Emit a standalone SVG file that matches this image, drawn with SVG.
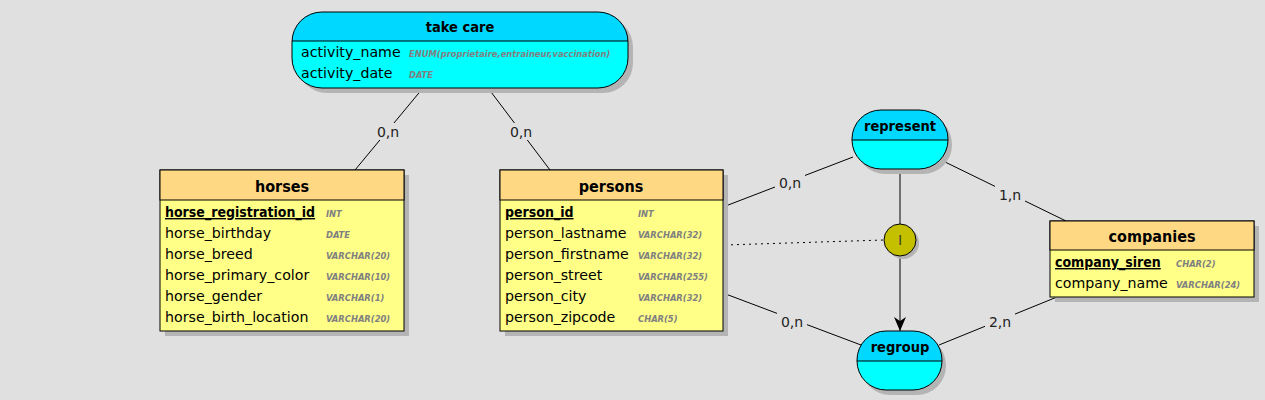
<svg xmlns="http://www.w3.org/2000/svg" width="1265" height="400" viewBox="0 0 1265 400">
<style>
text{font-family:"DejaVu Sans Condensed","Liberation Sans",sans-serif;}
.bg{fill:#e0e0e0}
.sh{fill:#b4b4b4}
.eh{fill:#ffd884;stroke:#000;stroke-width:1}
.eb{fill:#ffff88;stroke:#000;stroke-width:1}
.ah{fill:#00d8ff}
.ab{fill:#00ffff}
.ol{fill:none;stroke:#000;stroke-width:1}
.ttl{font-weight:bold;font-size:16px;text-anchor:middle;fill:#000}
.att{font-weight:bold;font-size:14.5px;text-anchor:middle;fill:#000}
.at{font-family:"DejaVu Sans",sans-serif;font-size:14.2px;fill:#000}
.pk{font-size:14px;font-weight:bold;fill:#000;text-decoration:underline}
.ty{font-size:9.3px;font-style:italic;font-weight:bold;fill:#808080}
.ln{stroke:#000;stroke-width:1;fill:none}
.lb{font-family:"DejaVu Sans",sans-serif;font-size:14px;fill:#222;text-anchor:middle}
.lbg{fill:#e0e0e0}
</style>
<defs>
<marker id="arr" viewBox="0 0 14 12" refX="14" refY="6" markerWidth="14" markerHeight="12" orient="auto" markerUnits="userSpaceOnUse">
<path d="M0,0 L4,6 L0,12 L14,6 Z" fill="#000"/>
</marker>
</defs>
<rect class="bg" x="0" y="0" width="1265" height="400"/>

<g id="connectors">
<line class="ln" x1="423" y1="88" x2="355" y2="170"/>
<line class="ln" x1="488" y1="88" x2="550" y2="170"/>
<line class="ln" x1="723" y1="207" x2="853" y2="157"/>
<line class="ln" x1="943" y1="161" x2="1066" y2="221"/>
<line class="ln" x1="723" y1="293" x2="861" y2="345"/>
<line class="ln" x1="939" y1="345" x2="1057" y2="297"/>
<line class="ln" x1="725" y1="245" x2="884" y2="240" stroke-dasharray="2,4"/>
<line class="ln" x1="900" y1="169" x2="900" y2="224"/>
<line class="ln" x1="900" y1="256" x2="900" y2="331" marker-end="url(#arr)"/>
<rect class="lbg" x="373" y="123" width="30" height="17"/>
<text class="lb" x="388" y="137">0,n</text>
<rect class="lbg" x="506" y="123" width="30" height="17"/>
<text class="lb" x="521" y="137">0,n</text>
<rect class="lbg" x="775" y="174" width="30" height="17"/>
<text class="lb" x="790" y="188">0,n</text>
<rect class="lbg" x="995" y="186" width="30" height="17"/>
<text class="lb" x="1010" y="200">1,n</text>
<rect class="lbg" x="777" y="313" width="30" height="17"/>
<text class="lb" x="792" y="327">0,n</text>
<rect class="lbg" x="985" y="313" width="30" height="17"/>
<text class="lb" x="1000" y="327">2,n</text>
</g>

<g id="take_care">
<rect class="sh" x="297" y="17" width="336" height="76" rx="30" ry="30"/>
<clipPath id="tcc"><rect x="292" y="12" width="336" height="76" rx="30" ry="30"/></clipPath>
<g clip-path="url(#tcc)">
<rect class="ab" x="292" y="12" width="336" height="76"/>
<rect class="ah" x="292" y="12" width="336" height="29"/>
</g>
<line class="ln" x1="292" y1="41" x2="628" y2="41"/>
<rect class="ol" x="292" y="12" width="336" height="76" rx="30" ry="30"/>
<text class="att" x="460" y="32">take care</text>
<text class="at" x="301" y="57">activity_name</text>
<text class="ty" x="409" y="57">ENUM(proprietaire,entraineur,vaccination)</text>
<text class="at" x="301" y="78">activity_date</text>
<text class="ty" x="409" y="78">DATE</text>
</g>

<g id="horses">
<rect class="sh" x="165" y="175" width="244" height="161"/>
<rect class="eb" x="160" y="170" width="244" height="161"/>
<rect class="eh" x="160" y="170" width="244" height="30"/>
<text class="ttl" x="282" y="192">horses</text>
<text class="pk" x="165" y="217">horse_registration_id</text>
<text class="ty" x="326" y="217">INT</text>
<text class="at" x="165" y="238">horse_birthday</text>
<text class="ty" x="326" y="238">DATE</text>
<text class="at" x="165" y="259">horse_breed</text>
<text class="ty" x="326" y="259">VARCHAR(20)</text>
<text class="at" x="165" y="280">horse_primary_color</text>
<text class="ty" x="326" y="280">VARCHAR(10)</text>
<text class="at" x="165" y="301">horse_gender</text>
<text class="ty" x="326" y="301">VARCHAR(1)</text>
<text class="at" x="165" y="322">horse_birth_location</text>
<text class="ty" x="326" y="322">VARCHAR(20)</text>
</g>

<g id="persons">
<rect class="sh" x="505" y="175" width="223" height="161"/>
<rect class="eb" x="500" y="170" width="223" height="161"/>
<rect class="eh" x="500" y="170" width="223" height="30"/>
<text class="ttl" x="611" y="192">persons</text>
<text class="pk" x="505" y="217">person_id</text>
<text class="ty" x="638" y="217">INT</text>
<text class="at" x="505" y="238">person_lastname</text>
<text class="ty" x="638" y="238">VARCHAR(32)</text>
<text class="at" x="505" y="259">person_firstname</text>
<text class="ty" x="638" y="259">VARCHAR(32)</text>
<text class="at" x="505" y="280">person_street</text>
<text class="ty" x="638" y="280">VARCHAR(255)</text>
<text class="at" x="505" y="301">person_city</text>
<text class="ty" x="638" y="301">VARCHAR(32)</text>
<text class="at" x="505" y="322">person_zipcode</text>
<text class="ty" x="638" y="322">CHAR(5)</text>
</g>

<g id="companies">
<rect class="sh" x="1055" y="226" width="204" height="76"/>
<rect class="eb" x="1050" y="221" width="204" height="76"/>
<rect class="eh" x="1050" y="221" width="204" height="29"/>
<text class="ttl" x="1152" y="242">companies</text>
<text class="pk" x="1055" y="267">company_siren</text>
<text class="ty" x="1176" y="267">CHAR(2)</text>
<text class="at" x="1055" y="288">company_name</text>
<text class="ty" x="1176" y="288">VARCHAR(24)</text>
</g>

<g id="represent">
<rect class="sh" x="856" y="115" width="96" height="59" rx="29" ry="29"/>
<clipPath id="rpc"><rect x="852" y="110" width="96" height="59" rx="29" ry="29"/></clipPath>
<g clip-path="url(#rpc)">
<rect class="ab" x="852" y="110" width="96" height="59"/>
<rect class="ah" x="852" y="110" width="96" height="30"/>
</g>
<line class="ln" x1="852" y1="140" x2="948" y2="140"/>
<rect class="ol" x="852" y="110" width="96" height="59" rx="29" ry="29"/>
<text class="att" x="900" y="131">represent</text>
</g>

<g id="regroup">
<rect class="sh" x="861" y="336" width="85" height="59" rx="29" ry="29"/>
<clipPath id="rgc"><rect x="857" y="331" width="85" height="59" rx="29" ry="29"/></clipPath>
<g clip-path="url(#rgc)">
<rect class="ab" x="857" y="331" width="85" height="59"/>
<rect class="ah" x="857" y="331" width="85" height="30"/>
</g>
<line class="ln" x1="857" y1="361" x2="942" y2="361"/>
<rect class="ol" x="857" y="331" width="85" height="59" rx="29" ry="29"/>
<text class="att" x="900" y="352">regroup</text>
</g>

<g id="constraint_I">
<circle cx="903" cy="243" r="16" fill="#b4b4b4"/>
<circle cx="900" cy="240" r="16" fill="#c4c000" stroke="#000" stroke-width="1"/>
<text x="900" y="245" font-size="14" font-family="DejaVu Sans,sans-serif" text-anchor="middle" fill="#333">I</text>
</g>
</svg>
